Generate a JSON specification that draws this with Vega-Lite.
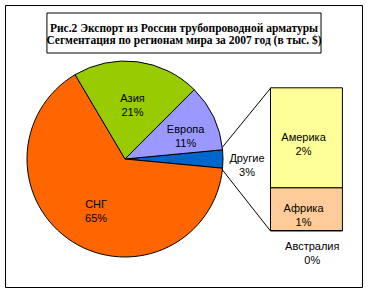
{
  "$schema": "https://vega.github.io/schema/vega-lite/v6.json",
  "width": 369,
  "height": 294,
  "autosize": {"type": "fit", "contains": "padding"},
  "padding": {"left": 5, "top": 5, "right": 7, "bottom": 7},
  "background": "white",
  "config": {
    "view": {"stroke": "black", "strokeWidth": 1},
    "axis": {"disable": true},
    "legend": {"disable": true},
    "text": {"font": "Liberation Sans", "fontSize": 11, "lineHeight": 14, "baseline": "middle", "align": "center", "lineBreak": "\n", "color": "black"}
  },
  "datasets": {
    "pie": [
      {"region": "Другие", "value": 3, "k": 1, "label": "Другие\n3%"},
      {"region": "СНГ", "value": 65, "k": 2, "label": "СНГ\n65%"},
      {"region": "Азия", "value": 21, "k": 3, "label": "Азия\n21%"},
      {"region": "Европа", "value": 11, "k": 4, "label": "Европа\n11%"}
    ],
    "bar": [
      {"region": "Австралия", "value": 0.01, "k": 1, "label": "Австралия\n0%"},
      {"region": "Африка", "value": 0.9, "k": 2, "label": "Африка\n1%"},
      {"region": "Америка", "value": 2.1, "k": 3, "label": "Америка\n2%"}
    ],
    "one": [{}]
  },
  "resolve": {"scale": {"y": "independent"}},
  "layer": [
    {
      "layer": [
        {
          "data": {"name": "one"},
          "mark": {"type": "rect", "fill": "white", "stroke": "black", "strokeWidth": 1},
          "encoding": {
            "x": {"datum": 43, "type": "quantitative", "scale": {"domain": [5, 362], "nice": false, "zero": false}},
            "x2": {"datum": 325},
            "y": {"datum": 13, "type": "quantitative", "scale": {"domain": [5, 287], "nice": false, "zero": false, "reverse": true}},
            "y2": {"datum": 53}
          }
        },
        {
          "data": {"name": "one"},
          "mark": {"type": "text", "font": "Liberation Serif", "fontWeight": "bold", "fontSize": 11.5, "lineHeight": 12.7},
          "encoding": {
            "text": {"value": ["Рис.2  Экспорт из России трубопроводной арматуры", "Сегментация по регионам мира за 2007 год (в тыс. $)"]},
            "x": {"datum": 184, "type": "quantitative", "scale": {"domain": [5, 362], "nice": false, "zero": false}},
            "y": {"datum": 28.5, "type": "quantitative", "scale": {"domain": [5, 287], "nice": false, "zero": false, "reverse": true}}
          }
        },
        {
          "data": {"name": "one"},
          "mark": {"type": "rule", "color": "black", "strokeWidth": 1},
          "encoding": {
            "x": {"datum": 222, "type": "quantitative", "scale": {"domain": [5, 362], "nice": false, "zero": false}},
            "x2": {"datum": 273},
            "y": {"datum": 149, "type": "quantitative", "scale": {"domain": [5, 287], "nice": false, "zero": false, "reverse": true}},
            "y2": {"datum": 88.3}
          }
        },
        {
          "data": {"name": "one"},
          "mark": {"type": "rule", "color": "black", "strokeWidth": 1},
          "encoding": {
            "x": {"datum": 222, "type": "quantitative", "scale": {"domain": [5, 362], "nice": false, "zero": false}},
            "x2": {"datum": 273},
            "y": {"datum": 168, "type": "quantitative", "scale": {"domain": [5, 287], "nice": false, "zero": false, "reverse": true}},
            "y2": {"datum": 231}
          }
        },
        {
          "data": {"name": "pie"},
          "mark": {"type": "arc", "outerRadius": 98, "stroke": "black", "strokeWidth": 1},
          "encoding": {
            "theta": {"field": "value", "type": "quantitative", "stack": true, "scale": {"range": [1.4765, 7.7597]}},
            "order": {"field": "k", "type": "quantitative"},
            "color": {"field": "region", "type": "nominal", "scale": {"domain": ["СНГ", "Азия", "Европа", "Другие", "Америка", "Африка", "Австралия"], "range": ["#FF6600", "#99CC00", "#9999FF", "#0066CC", "#FFFF99", "#FFCC99", "#CCFFCC"]}},
            "x": {"datum": 123.3, "type": "quantitative", "scale": {"domain": [5, 362], "nice": false, "zero": false}},
            "y": {"datum": 159, "type": "quantitative", "scale": {"domain": [5, 287], "nice": false, "zero": false, "reverse": true}}
          }
        },
        {
          "data": {"name": "pie"},
          "mark": {"type": "text", "radius": 60},
          "encoding": {
            "theta": {"field": "value", "type": "quantitative", "stack": true},
            "order": {"field": "k", "type": "quantitative"},
            "text": {"condition": {"test": "datum.region === 'Азия'", "field": "label"}, "value": ""},
            "x": {"datum": 123.3, "type": "quantitative", "scale": {"domain": [5, 362], "nice": false, "zero": false}},
            "y": {"datum": 159, "type": "quantitative", "scale": {"domain": [5, 287], "nice": false, "zero": false, "reverse": true}}
          }
        },
        {
          "data": {"name": "pie"},
          "mark": {"type": "text", "radius": 67},
          "encoding": {
            "theta": {"field": "value", "type": "quantitative", "stack": true},
            "order": {"field": "k", "type": "quantitative"},
            "text": {"condition": {"test": "datum.region === 'Европа'", "field": "label"}, "value": ""},
            "x": {"datum": 123.3, "type": "quantitative", "scale": {"domain": [5, 362], "nice": false, "zero": false}},
            "y": {"datum": 159, "type": "quantitative", "scale": {"domain": [5, 287], "nice": false, "zero": false, "reverse": true}}
          }
        },
        {
          "data": {"name": "pie"},
          "mark": {"type": "text", "radius": 54},
          "encoding": {
            "theta": {"field": "value", "type": "quantitative", "stack": true},
            "order": {"field": "k", "type": "quantitative"},
            "text": {"condition": {"test": "datum.region === 'СНГ'", "field": "label"}, "value": ""},
            "x": {"datum": 123.3, "type": "quantitative", "scale": {"domain": [5, 362], "nice": false, "zero": false}},
            "y": {"datum": 159, "type": "quantitative", "scale": {"domain": [5, 287], "nice": false, "zero": false, "reverse": true}}
          }
        },
        {
          "data": {"name": "pie"},
          "mark": {"type": "text", "radius": 122},
          "encoding": {
            "theta": {"field": "value", "type": "quantitative", "stack": true},
            "order": {"field": "k", "type": "quantitative"},
            "text": {"condition": {"test": "datum.region === 'Другие'", "field": "label"}, "value": ""},
            "x": {"datum": 123.3, "type": "quantitative", "scale": {"domain": [5, 362], "nice": false, "zero": false}},
            "y": {"datum": 159, "type": "quantitative", "scale": {"domain": [5, 287], "nice": false, "zero": false, "reverse": true}}
          }
        }
      ]
    },
    {
      "data": {"name": "bar"},
      "mark": {"type": "bar", "orient": "vertical", "stroke": "black", "strokeWidth": 1},
      "encoding": {
        "x": {"datum": 273, "type": "quantitative", "scale": {"domain": [5, 362], "nice": false, "zero": false}},
        "x2": {"datum": 347},
        "y": {"field": "value", "type": "quantitative", "stack": "zero", "scale": {"domain": [-1.178, 4.751], "nice": false, "zero": false}},
        "order": {"field": "k", "type": "quantitative"},
        "color": {"field": "region", "type": "nominal"}
      }
    },
    {
      "layer": [
        {
          "data": {"name": "bar"},
          "transform": [{"filter": "datum.region === 'Америка'"}],
          "mark": {"type": "text"},
          "encoding": {
            "text": {"field": "label"},
            "x": {"datum": 307, "type": "quantitative", "scale": {"domain": [5, 362], "nice": false, "zero": false}},
            "y": {"datum": 137.5, "type": "quantitative", "scale": {"domain": [5, 287], "nice": false, "zero": false, "reverse": true}}
          }
        },
        {
          "data": {"name": "bar"},
          "transform": [{"filter": "datum.region === 'Африка'"}],
          "mark": {"type": "text"},
          "encoding": {
            "text": {"field": "label"},
            "x": {"datum": 307, "type": "quantitative", "scale": {"domain": [5, 362], "nice": false, "zero": false}},
            "y": {"datum": 209, "type": "quantitative", "scale": {"domain": [5, 287], "nice": false, "zero": false, "reverse": true}}
          }
        },
        {
          "data": {"name": "bar"},
          "transform": [{"filter": "datum.region === 'Австралия'"}],
          "mark": {"type": "text"},
          "encoding": {
            "text": {"field": "label"},
            "x": {"datum": 316, "type": "quantitative", "scale": {"domain": [5, 362], "nice": false, "zero": false}},
            "y": {"datum": 247, "type": "quantitative", "scale": {"domain": [5, 287], "nice": false, "zero": false, "reverse": true}}
          }
        }
      ]
    }
  ]
}
